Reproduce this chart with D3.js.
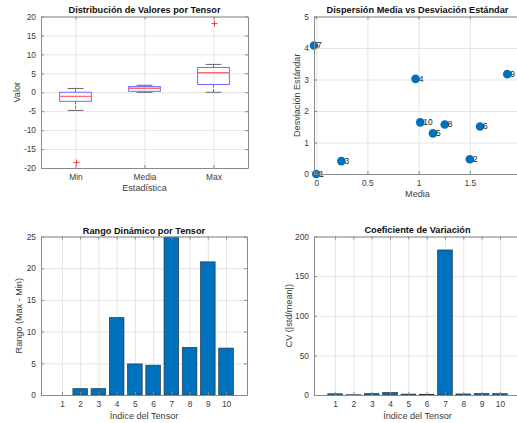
<!DOCTYPE html>
<html>
<head>
<meta charset="utf-8">
<script src="https://cdn.jsdelivr.net/npm/d3@7"></script>
<style>
  body { margin: 0; background: #fff; }
  text { font-family: "Liberation Sans", Arial, Helvetica, sans-serif; }
</style>
</head>
<body>
<svg id="fig" width="517" height="423"></svg>
<script>
// ---- Box plot summaries (one box per statistic) ----
const statCategories = ["Min", "Media", "Max"];
const whiskerLow  = [-4.8, -0.02, 0.0];
const quartile1   = [-2.4, 0.25, 2.05];
const medians     = [-1.1, 1.05, 5.15];
const quartile3   = [0.0, 1.5, 6.55];
const whiskerHigh = [1.0, 1.85, 7.35];
const outlierCategory = ["Min", "Max"];
const outlierValues   = [-18.3, 18.4];
const boxTicks = [-20, -15, -10, -5, 0, 5, 10, 15, 20];

// ---- Per-tensor statistics ----
const tensorIds    = [1, 2, 3, 4, 5, 6, 7, 8, 9, 10];
const tensorMeans  = [0.0, 1.5, 0.245, 0.97, 1.14, 1.6, -0.022, 1.255, 1.866, 1.016];
const tensorStds   = [0.0, 0.47, 0.41, 3.02, 1.29, 1.51, 4.08, 1.57, 3.17, 1.64];
const tensorRanges = [0.0, 1.0, 1.0, 12.2, 4.9, 4.7, 24.9, 7.5, 21.0, 7.4];
const tensorCV     = [1.5, 0.3, 1.7, 3.1, 1.1, 0.9, 183, 1.3, 1.7, 1.6];

const scatterXTicks = [0, 0.5, 1, 1.5];
const scatterYTicks = [0, 1, 2, 3, 4, 5];
const rangeTicks = [0, 5, 10, 15, 20, 25];
const cvTicks = [0, 50, 100, 150, 200];

const BLUE = "#0072BD";
const AXIS = "#8a8a8a";
const GRID = "#e4e4e4";
const TICKTXT = "#3c3c3c";
const TICKFS = 8.4, LABELFS = 9.1, TITLEFS = 9.2;

const svg = d3.select("#fig");
const num = d => String(d);

function styleAxis(sel, showText) {
  sel.select(".domain").attr("stroke", AXIS).attr("stroke-width", 1);
  sel.selectAll(".tick line").attr("stroke", AXIS);
  sel.selectAll(".tick text")
    .attr("fill", TICKTXT)
    .style("font-size", TICKFS + "px")
    .style("display", showText ? null : "none");
}

// Draws grid, then content, then the framed axes and labels of one panel
function panel(r, x, y, xTickVals, yTickVals, opts, content) {
  const g = svg.append("g");
  const w = r.x1 - r.x0, h = r.y1 - r.y0;

  // grid lines
  g.append("g").attr("transform", `translate(0,${r.y1})`)
    .call(d3.axisBottom(x).tickValues(opts.xGrid || xTickVals).tickSize(-h).tickFormat(""))
    .call(s => { s.select(".domain").remove(); s.selectAll("line").attr("stroke", GRID); });
  g.append("g").attr("transform", `translate(${r.x0},0)`)
    .call(d3.axisLeft(y).tickValues(yTickVals).tickSize(-w).tickFormat(""))
    .call(s => { s.select(".domain").remove(); s.selectAll("line").attr("stroke", GRID); });

  content(g);

  // axes on all four sides, inward ticks
  g.append("g").attr("transform", `translate(0,${r.y1})`)
    .call(d3.axisBottom(x).tickValues(xTickVals).tickSizeInner(-3).tickSizeOuter(0)
      .tickPadding(opts.xPad || 6).tickFormat(opts.xFmt || num))
    .call(s => styleAxis(s, true));
  g.append("g").attr("transform", `translate(0,${r.y0})`)
    .call(d3.axisTop(x).tickValues(xTickVals).tickSizeInner(-3).tickSizeOuter(0).tickFormat(""))
    .call(s => styleAxis(s, false));
  g.append("g").attr("transform", `translate(${r.x0},0)`)
    .call(d3.axisLeft(y).tickValues(yTickVals).tickSizeInner(-3).tickSizeOuter(0)
      .tickPadding(5).tickFormat(num))
    .call(s => styleAxis(s, true));
  g.append("g").attr("transform", `translate(${r.x1},0)`)
    .call(d3.axisRight(y).tickValues(yTickVals).tickSizeInner(-3).tickSizeOuter(0).tickFormat(""))
    .call(s => styleAxis(s, false));

  // title
  g.append("text")
    .attr("x", (r.x0 + r.x1) / 2).attr("y", opts.titleY)
    .attr("text-anchor", "middle").attr("dy", "0.35em")
    .style("font-size", TITLEFS + "px").style("font-weight", "bold")
    .attr("fill", "#111").text(opts.title);
  // x label
  g.append("text")
    .attr("x", (r.x0 + r.x1) / 2).attr("y", r.y1 + opts.xLabelOff)
    .attr("text-anchor", "middle").attr("dy", "0.35em")
    .style("font-size", LABELFS + "px").attr("fill", TICKTXT).text(opts.xLabel);
  // y label
  g.append("text")
    .attr("transform", `translate(${r.x0 - opts.yLabelOff},${(r.y0 + r.y1) / 2}) rotate(-90)`)
    .attr("text-anchor", "middle").attr("dy", "0.35em")
    .style("font-size", LABELFS + "px").attr("fill", TICKTXT).text(opts.yLabel);
}

// ---------- Panel 1: box plots ----------
{
  const r = { x0: 41, x1: 248, y0: 16.5, y1: 168 };
  const x = d3.scalePoint().domain(statCategories).range([r.x0, r.x1]).padding(0.5);
  const y = d3.scaleLinear().domain([-20, 20]).range([r.y1, r.y0]);
  const boxW = x.step() * 0.46, capW = boxW / 2;
  panel(r, x, y, statCategories, boxTicks, {
    title: "Distribución de Valores por Tensor", titleY: 10,
    xLabel: "Estadística", xLabelOff: 20, yLabel: "Valor", yLabelOff: 24.5,
    xFmt: d => d
  }, g => {
    statCategories.forEach((c, i) => {
      const cx = x(c);
      // whiskers
      g.append("line").attr("x1", cx).attr("x2", cx)
        .attr("y1", y(quartile3[i])).attr("y2", y(whiskerHigh[i]))
        .attr("stroke", "#777").attr("stroke-dasharray", "3,1.5");
      g.append("line").attr("x1", cx).attr("x2", cx)
        .attr("y1", y(quartile1[i])).attr("y2", y(whiskerLow[i]))
        .attr("stroke", "#777").attr("stroke-dasharray", "3,1.5");
      // caps
      [whiskerLow[i], whiskerHigh[i]].forEach(v => {
        g.append("line").attr("x1", cx - capW / 2).attr("x2", cx + capW / 2)
          .attr("y1", y(v)).attr("y2", y(v)).attr("stroke", "#666");
      });
      // box
      g.append("rect").attr("x", cx - boxW / 2).attr("width", boxW)
        .attr("y", y(quartile3[i])).attr("height", y(quartile1[i]) - y(quartile3[i]))
        .attr("fill", "none").attr("stroke", "#6c6cff");
      // median
      g.append("line").attr("x1", cx - boxW / 2).attr("x2", cx + boxW / 2)
        .attr("y1", y(medians[i])).attr("y2", y(medians[i]))
        .attr("stroke", "#ff6a6a").attr("stroke-width", 1.3);
    });
    // outliers
    outlierValues.forEach((v, i) => {
      const cx = Math.round(x(outlierCategory[i])) + 0.5;
      const cy = Math.round(y(v)) + 0.5, s = 3;
      g.append("path").attr("d", `M${cx - s},${cy}H${cx + s}M${cx},${cy - s}V${cy + s}`)
        .attr("stroke", "#ff3c3c").attr("fill", "none");
    });
  });
}

// ---------- Panel 2: mean vs std scatter ----------
{
  const r = { x0: 314, x1: 521, y0: 16.5, y1: 174 };
  const x = d3.scaleLinear().domain([-0.022, 2.0]).range([r.x0, r.x1]);
  const y = d3.scaleLinear().domain([0, 5]).range([r.y1, r.y0]);
  panel(r, x, y, scatterXTicks, scatterYTicks, {
    title: "Dispersión Media vs Desviación Estándar", titleY: 9.5,
    xLabel: "Media", xLabelOff: 20, yLabel: "Desviación Estándar", yLabelOff: 16.7,
    xGrid: [0, 0.5, 1, 1.5, 2]
  }, g => {
    g.selectAll("circle.pt").data(tensorIds).join("circle")
      .attr("cx", (d, i) => x(tensorMeans[i])).attr("cy", (d, i) => y(tensorStds[i]))
      .attr("r", 4.3).attr("fill", BLUE);
    g.selectAll("text.pt").data(tensorIds).join("text")
      .attr("x", (d, i) => x(tensorMeans[i] + 0.03)).attr("y", (d, i) => y(tensorStds[i]))
      .attr("dy", "0.35em").style("font-size", TICKFS + "px").attr("fill", "#222")
      .text(d => d);
  });
}

// ---------- Bar panels ----------
function barPanel(r, values, yMax, yTicks, opts) {
  const x = d3.scaleLinear().domain([-0.15, 11.15]).range([r.x0, r.x1]);
  const y = d3.scaleLinear().domain([0, yMax]).range([r.y1, r.y0]);
  const bw = (x(1) - x(0)) * 0.8;
  panel(r, x, y, tensorIds, yTicks, opts, g => {
    g.selectAll("rect.bar").data(tensorIds).join("rect")
      .attr("x", d => x(d) - bw / 2).attr("width", bw)
      .attr("y", (d, i) => y(values[i]))
      .attr("height", (d, i) => y(0) - y(values[i]))
      .attr("fill", BLUE)
      .attr("stroke", (d, i) => values[i] > 0 ? "#27323d" : "none")
      .attr("stroke-width", 0.7);
  });
}

barPanel({ x0: 41, x1: 247, y0: 236.5, y1: 395 }, tensorRanges, 25, rangeTicks, {
  title: "Rango Dinámico por Tensor", titleY: 230.5,
  xLabel: "Índice del Tensor", xLabelOff: 21, yLabel: "Rango (Max - Min)", yLabelOff: 21.7
});

barPanel({ x0: 314, x1: 521, y0: 236.5, y1: 395 }, tensorCV, 200, cvTicks, {
  title: "Coeficiente de Variación", titleY: 230,
  xLabel: "Índice del Tensor", xLabelOff: 21, yLabel: "CV (|std/mean|)", yLabelOff: 25.3
});
</script>
</body>
</html>
